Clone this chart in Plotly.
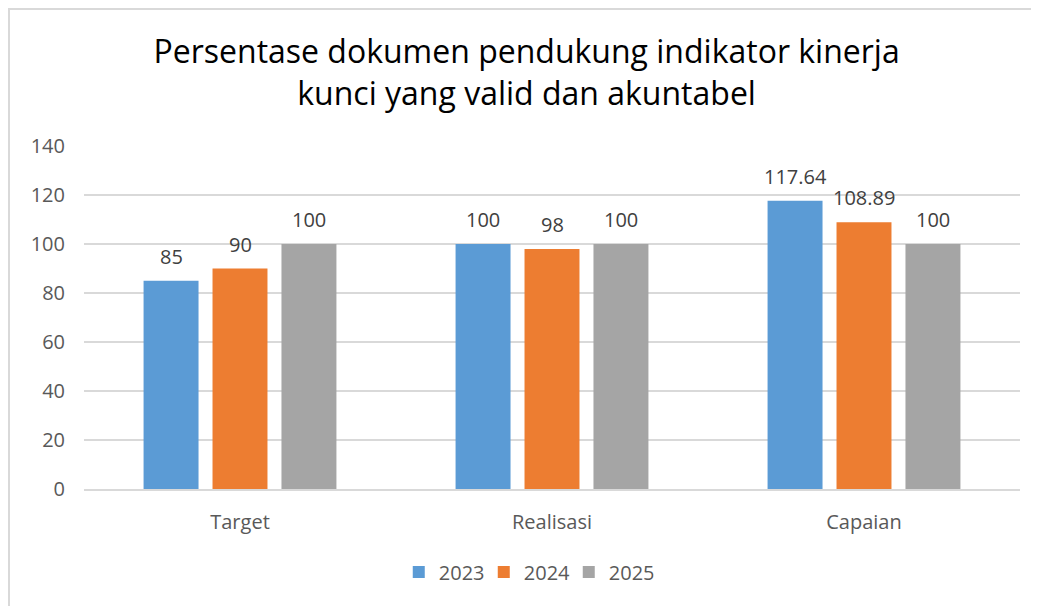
import plotly.graph_objects as go

categories = ["Target", "Realisasi", "Capaian"]
series_names = ["2023", "2024", "2025"]
values_2023 = [85, 100, 117.64]
values_2024 = [90, 98, 108.89]
values_2025 = [100, 100, 100]
series_values = [values_2023, values_2024, values_2025]
colors = ["#5B9BD5", "#ED7D31", "#A5A5A5"]
y_ticks = [0, 20, 40, 60, 80, 100, 120, 140]

FONT = "Open Sans"
W, H = 1031, 598
ML, MR, MT, MB = 76, 19, 138, 117
PW, PH = W - ML - MR, H - MT - MB
BARGAP, GROUPGAP = 0.337, 0.203

fig = go.Figure()
for name, vals, col in zip(series_names, series_values, colors):
    fig.add_trace(go.Bar(
        name=name, x=categories, y=vals, marker_color=col,
        marker_line_width=0,
    ))

# data labels
slot = PW / 3 * (1 - BARGAP) / 3
for i, vals in enumerate(series_values):
    for c, v in zip(categories, vals):
        fig.add_annotation(
            x=c, y=v, text=f"{v:g}", showarrow=False,
            xshift=(i - 1) * slot, yanchor="bottom", yshift=9,
            font=dict(family=FONT, size=20, color="#404040"),
        )

fig.update_layout(
    width=W, height=H,
    margin=dict(l=ML, r=MR, t=MT, b=MB),
    paper_bgcolor="white", plot_bgcolor="white",
    barmode="group", bargap=BARGAP, bargroupgap=GROUPGAP,
    title=dict(
        text="Persentase dokumen pendukung indikator kinerja<br>kunci yang valid dan akuntabel",
        x=0.503, xanchor="center", xref="container",
        y=1 - 55 / H, yanchor="middle", yref="container",
        font=dict(family=FONT, size=32, color="#000000"),
    ),
    showlegend=True,
    legend=dict(
        orientation="h", x=0.4725, xanchor="center", y=-0.242, yanchor="middle",
        font=dict(family=FONT, size=20, color="#595959"),
        itemwidth=30, entrywidth=40, entrywidthmode="pixels", traceorder="normal",
    ),
    font=dict(family=FONT, size=20, color="#595959"),
)
fig.update_yaxes(
    range=[0, 140], tickvals=y_ticks, showgrid=True, gridcolor="#D9D9D9",
    gridwidth=1.5, zeroline=False, showline=False, ticks="",
    ticklabelstandoff=18, tickfont=dict(family=FONT, size=20, color="#595959"),
)
fig.update_xaxes(
    showline=True, linecolor="#D9D9D9", linewidth=1.5, ticks="",
    ticklabelstandoff=14, tickfont=dict(family=FONT, size=20, color="#595959"),
)
# chart border
fig.add_shape(
    type="rect", xref="paper", yref="paper",
    x0=(1 - ML) / PW, x1=(W + 10 - ML) / PW,
    y0=-(H + 10 - (H - MB)) / PH, y1=(PH + MT - 1) / PH,
    line=dict(color="#D9D9D9", width=2), fillcolor="rgba(0,0,0,0)", layer="below",
)
fig.write_html("out.html")
